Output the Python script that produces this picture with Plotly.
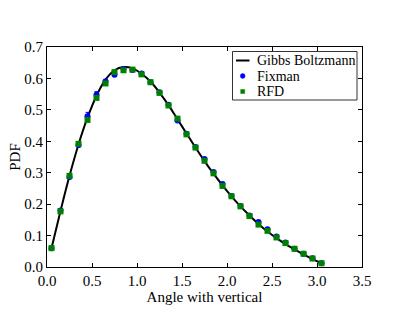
import plotly.graph_objects as go

x_pts = [0.05, 0.15, 0.25, 0.35, 0.45, 0.55, 0.65, 0.75, 0.85, 0.95, 1.05, 1.15, 1.25, 1.35, 1.45,
         1.55, 1.65, 1.75, 1.85, 1.95, 2.05, 2.15, 2.25, 2.35, 2.45, 2.55, 2.65, 2.75, 2.85, 2.95, 3.05]
gibbs = [0.060, 0.178, 0.290, 0.390, 0.475, 0.545, 0.596, 0.626, 0.636, 0.632, 0.615, 0.590, 0.555,
         0.515, 0.470, 0.425, 0.380, 0.337, 0.297, 0.260, 0.225, 0.193, 0.164, 0.137, 0.113, 0.092,
         0.073, 0.056, 0.040, 0.025, 0.012]
fixman = [0.060, 0.180, 0.286, 0.388, 0.480, 0.548, 0.590, 0.612, 0.630, 0.627, 0.616, 0.588, 0.556,
          0.516, 0.466, 0.424, 0.382, 0.344, 0.302, 0.264, 0.226, 0.194, 0.164, 0.143, 0.120, 0.097,
          0.078, 0.058, 0.042, 0.028, 0.012]
fixman_err = [0.003, 0.004, 0.005, 0.007, 0.012, 0.010, 0.007, 0.006, 0.005, 0.004, 0.004, 0.004, 0.004,
              0.004, 0.004, 0.004, 0.004, 0.004, 0.004, 0.004, 0.003, 0.003, 0.003, 0.003, 0.003, 0.003,
              0.002, 0.002, 0.002, 0.002, 0.002]
rfd = [0.060, 0.177, 0.290, 0.392, 0.468, 0.538, 0.584, 0.620, 0.626, 0.628, 0.613, 0.588, 0.554,
       0.514, 0.472, 0.422, 0.380, 0.338, 0.298, 0.258, 0.225, 0.193, 0.162, 0.135, 0.115, 0.094,
       0.076, 0.058, 0.042, 0.027, 0.012]

x_ticks = [0.0, 0.5, 1.0, 1.5, 2.0, 2.5, 3.0, 3.5]
y_ticks = [0.0, 0.1, 0.2, 0.3, 0.4, 0.5, 0.6, 0.7]
legend_names = ["Gibbs Boltzmann", "Fixman", "RFD"]

font = "Liberation Serif, serif"
BLUE = "#0000ff"
GREEN = "#008000"

fig = go.Figure()
fig.add_trace(go.Scatter(x=x_pts, y=gibbs, mode="lines", name=legend_names[0], showlegend=False,
                         line=dict(color="black", width=2, shape="spline")))
fig.add_trace(go.Scatter(x=x_pts, y=fixman, mode="markers", name=legend_names[1], showlegend=False,
                         marker=dict(color=BLUE, size=6, symbol="circle"),
                         error_y=dict(type="data", array=fixman_err, color=BLUE, thickness=1, width=2)))
fig.add_trace(go.Scatter(x=x_pts, y=rfd, mode="markers", name=legend_names[2], showlegend=False,
                         marker=dict(color=GREEN, size=6, symbol="square")))

axis_common = dict(showgrid=False, zeroline=False, showline=True, linecolor="black", linewidth=1,
                   mirror="ticks", ticks="inside", ticklen=4, tickcolor="black",
                   tickfont=dict(family=font, size=15, color="black"))
fig.update_xaxes(range=[0, 3.5], tickvals=x_ticks, ticktext=[f"{v:.1f}" for v in x_ticks],
                 title=dict(text="Angle with vertical", font=dict(family=font, size=15, color="black"), standoff=0),
                 **axis_common)
fig.update_yaxes(range=[0, 0.7], tickvals=y_ticks, ticktext=[f"{v:.1f}" for v in y_ticks],
                 title=dict(text="PDF", font=dict(family=font, size=15, color="black"), standoff=0),
                 **axis_common)

# custom compact legend (matplotlib style)
W, H = 315.0, 220.0   # plot area size in px
def px(xp):
    return (xp - 47) / W
def py(yp):
    return (267 - yp) / H

rows = [60.5, 76, 91.5]
shapes = [
    dict(type="rect", xref="paper", yref="paper", x0=px(232.5), x1=px(357), y0=py(100), y1=py(51.5),
         line=dict(color="#333333", width=1), fillcolor="white", layer="above"),
    dict(type="line", xref="paper", yref="paper", x0=px(236), x1=px(249.5), y0=py(rows[0]), y1=py(rows[0]),
         line=dict(color="black", width=2), layer="above"),
    dict(type="circle", xref="paper", yref="paper", x0=px(240.3), x1=px(245.1),
         y0=py(rows[1] + 2.4), y1=py(rows[1] - 2.4),
         line=dict(color=BLUE, width=0.5), fillcolor=BLUE, layer="above"),
    dict(type="rect", xref="paper", yref="paper", x0=px(240.7), x1=px(244.7),
         y0=py(rows[2] + 2), y1=py(rows[2] - 2),
         line=dict(color=GREEN, width=0.5), fillcolor=GREEN, layer="above"),
]
annotations = []
for name, yy in zip(legend_names, rows):
    annotations.append(dict(text=name, xref="paper", yref="paper", x=px(255.5), y=py(yy),
                            xanchor="left", yanchor="middle", showarrow=False, borderpad=0,
                            font=dict(family=font, size=14, color="black")))

fig.update_layout(
    width=407, height=315,
    margin=dict(l=47, r=45, t=47, b=48),
    paper_bgcolor="white", plot_bgcolor="white",
    font=dict(family=font, size=15, color="black"),
    shapes=shapes, annotations=annotations,
    showlegend=False,
)

fig.write_html("out.html", config={"displayModeBar": False},
               post_script="document.body.style.margin='0px';")
